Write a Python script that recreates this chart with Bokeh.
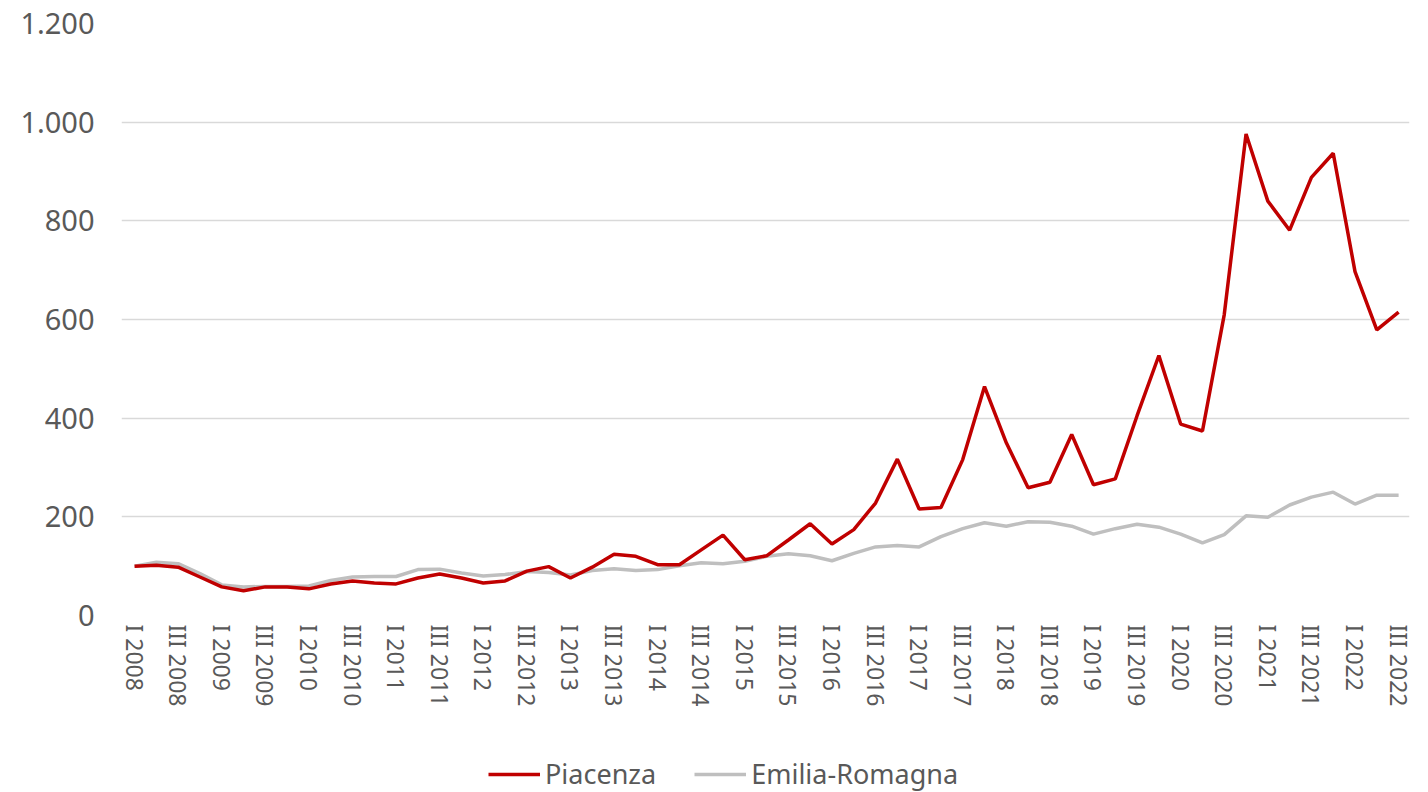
from bokeh.plotting import figure
from bokeh.layouts import column
from bokeh.models import ColumnDataSource, FixedTicker, Legend, LegendItem
from bokeh.embed import file_html
from bokeh.resources import INLINE

# Quarterly index (I 2008 = 100), I 2008 .. III 2022
quarters = [f"{q} {y}" for y in range(2008, 2023) for q in ["I", "II", "III", "IV"]][:59]

piacenza = [100, 102, 98, 78, 58, 50, 58, 58, 54, 64,
            70, 66, 64, 76, 84, 76, 66, 70, 90, 99,
            76, 98, 124, 120, 103, 103, 133, 163, 113, 121,
            153, 186, 145, 174, 228, 317, 216, 219, 316, 464,
            350, 259, 270, 367, 265, 277, 405, 527, 388, 374,
            610, 976, 840, 781, 888, 937, 697, 579, 615]

emilia_romagna = [100, 108, 105, 85, 62, 58, 59, 59, 60, 71,
                  78, 79, 79, 93, 94, 86, 80, 83, 89, 87,
                  82, 91, 95, 91, 93, 101, 107, 105, 110, 120,
                  125, 121, 111, 126, 139, 142, 139, 160, 176, 188,
                  181, 190, 189, 181, 165, 176, 185, 179, 165, 147,
                  164, 202, 199, 224, 240, 250, 226, 244, 244]

series_names = ["Piacenza", "Emilia-Romagna"]

y_ticks = [0, 200, 400, 600, 800, 1000, 1200]
y_tick_labels = ["0", "200", "400", "600", "800", "1.000", "1.200"]

x_tick_labels = ["I 2008", "III 2008", "I 2009", "III 2009", "I 2010", "III 2010",
                 "I 2011", "III 2011", "I 2012", "III 2012", "I 2013", "III 2013",
                 "I 2014", "III 2014", "I 2015", "III 2015", "I 2016", "III 2016",
                 "I 2017", "III 2017", "I 2018", "III 2018", "I 2019", "III 2019",
                 "I 2020", "III 2020", "I 2021", "III 2021", "I 2022", "III 2022"]

FONT = "Noto Sans"
TXT = "#595959"
RED = "#C00000"
GREY = "#BFBFBF"
LW = 3.5

src = ColumnDataSource(dict(x=list(range(len(quarters))), q=quarters,
                            pc=piacenza, er=emilia_romagna))

p = figure(frame_width=1288, frame_height=592,
           x_range=(-0.6, 58.5), y_range=(0, 1200),
           output_backend="svg", toolbar_location=None,
           min_border_left=121, min_border_top=23, min_border_right=8,
           min_border_bottom=134)
p.outline_line_color = None
p.background_fill_color = "white"

p.line("x", "er", source=src, line_color=GREY, line_width=LW)
p.line("x", "pc", source=src, line_color=RED, line_width=LW)

# y axis
p.yaxis.ticker = FixedTicker(ticks=y_ticks)
p.yaxis.major_label_overrides = {t: l for t, l in zip(y_ticks, y_tick_labels)}
p.yaxis.axis_line_color = None
p.yaxis.major_tick_line_color = None
p.yaxis.minor_tick_line_color = None
p.yaxis.major_tick_out = 0
p.yaxis.major_tick_in = 0
p.yaxis.major_label_text_font = FONT
p.yaxis.major_label_text_font_size = "29px"
p.yaxis.major_label_text_color = TXT
p.yaxis.major_label_standoff = 27

# x axis
xt = list(range(0, len(quarters), 2))
p.xaxis.ticker = FixedTicker(ticks=xt)
p.xaxis.major_label_overrides = {t: l for t, l in zip(xt, x_tick_labels)}
p.xaxis.major_label_orientation = "vertical"
p.xaxis.axis_line_color = None
p.xaxis.major_tick_line_color = None
p.xaxis.minor_tick_line_color = None
p.xaxis.major_tick_out = 0
p.xaxis.major_tick_in = 0
p.xaxis.major_label_text_font = FONT
p.xaxis.major_label_text_font_size = "23px"
p.xaxis.major_label_text_color = TXT
p.xaxis.major_label_standoff = 9

p.xgrid.grid_line_color = None
p.ygrid.grid_line_color = "#D9D9D9"
p.ygrid.grid_line_width = 1.5

# legend strip below the chart (its frame is aligned with the chart's frame)
lg = figure(width=1417, height=43, x_range=(0, 1), y_range=(0, 1),
            output_backend="svg", toolbar_location=None, min_border=0)
lg.axis.visible = False
lg.grid.visible = False
lg.outline_line_color = None
# off-range samples only, so that the legend has line glyphs to draw
d_pc = lg.line(x=[5, 6], y=[5, 6], line_color=RED, line_width=LW)
d_er = lg.line(x=[5, 6], y=[5, 6], line_color=GREY, line_width=LW)
legend = Legend(items=[LegendItem(label=series_names[0], renderers=[d_pc]),
                       LegendItem(label=series_names[1], renderers=[d_er])],
                orientation="horizontal", location=(367, 0),
                label_text_font=FONT, label_text_font_size="27px",
                label_text_color=TXT, glyph_width=52, glyph_height=20,
                label_standoff=5, spacing=38, border_line_color=None,
                background_fill_alpha=0, margin=0, padding=0)
lg.add_layout(legend, "center")

layout = column(p, lg, spacing=0)
open("out.html", "w").write(file_html(layout, INLINE))
